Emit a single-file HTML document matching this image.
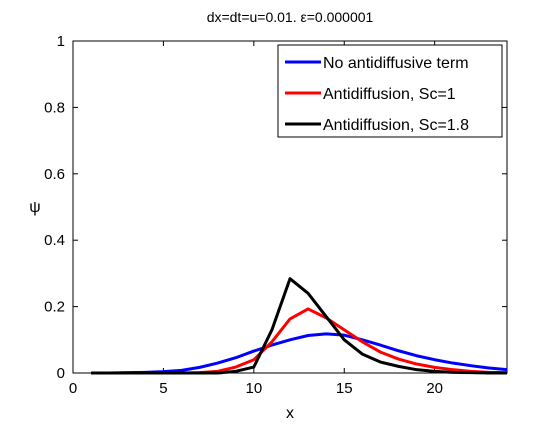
<!DOCTYPE html>
<html><head><meta charset="utf-8"><style>
body{margin:0;background:#fff;}
svg text{font-family:"Liberation Sans",sans-serif;}
</style></head><body>
<svg id="chart" width="560" height="420" xmlns="http://www.w3.org/2000/svg">
<rect width="560" height="420" fill="#fff"/>
<text x="290" y="22" text-anchor="middle" font-size="14">dx=dt=u=0.01. ε=0.000001</text>
<g id="plot"></g>
<text x="290" y="418" text-anchor="middle" font-size="16">x</text>
<text x="35" y="212" text-anchor="middle" font-size="16">ψ</text>
<g>
<rect x="278" y="45" width="224" height="92" fill="#fff" stroke="#000" stroke-width="1"/>
<line x1="285" y1="62" x2="321" y2="62" stroke="#0000ff" stroke-width="3"/>
<text x="323" y="68" font-size="16">No antidiffusive term</text>
<line x1="285" y1="93" x2="321" y2="93" stroke="#ff0000" stroke-width="3"/>
<text x="323" y="99" font-size="16">Antidiffusion, Sc=1</text>
<line x1="285" y1="124" x2="321" y2="124" stroke="#000" stroke-width="3"/>
<text x="323" y="130" font-size="16">Antidiffusion, Sc=1.8</text>
</g>
</svg>
<script>
const xs = [1,2,3,4,5,6,7,8,9,10,11,12,13,14,15,16,17,18,19,20,21,22,23,24];
const blue = [0,0,0.001,0.002,0.004,0.008,0.017,0.03,0.046,0.066,0.084,0.1,0.113,0.118,0.114,0.1,0.084,0.067,0.052,0.04,0.03,0.022,0.015,0.01];
const red = [0,0,0,0,0,0,0.001,0.005,0.018,0.04,0.094,0.163,0.193,0.166,0.13,0.094,0.063,0.042,0.027,0.017,0.01,0.005,0.002,0.001];
const black = [0,0,0,0,0,0,0,0,0.005,0.018,0.13,0.284,0.24,0.17,0.1,0.057,0.033,0.02,0.01,0.005,0.002,0.001,0,0];
const xTicks = [0,5,10,15,20];
const yTicks = [0,0.2,0.4,0.6,0.8,1];
const X0=73,X1=507,Y0=373,Y1=41;
function sx(v){return X0+(v-0)/(24-0)*(X1-X0);}
function sy(v){return Y0-(v-0)/(1-0)*(Y0-Y1);}
const NS="http://www.w3.org/2000/svg";
const g=document.getElementById('plot');
function mk(t,a){const e=document.createElementNS(NS,t);for(const k in a)e.setAttribute(k,a[k]);g.appendChild(e);return e;}
const frame=mk('rect',{x:X0,y:Y1,width:X1-X0,height:Y0-Y1,fill:'none',stroke:'#000','stroke-width':1});


xTicks.forEach(t=>{
  const x=sx(t);
  mk('line',{x1:x,y1:Y0,x2:x,y2:Y0-5,stroke:'#000'});
  mk('line',{x1:x,y1:Y1,x2:x,y2:Y1+5,stroke:'#000'});
  const tx=mk('text',{x:x,y:Y0+20,'text-anchor':'middle','font-size':15});
  tx.textContent=t;
  
  
});
yTicks.forEach(t=>{
  const y=sy(t);
  mk('line',{x1:X0,y1:y,x2:X0+5,y2:y,stroke:'#000'});
  mk('line',{x1:X1,y1:y,x2:X1-5,y2:y,stroke:'#000'});
  const tx=mk('text',{x:X0-8,y:y+5,'text-anchor':'end','font-size':15});
  tx.textContent=t;
  
  
});
[[blue,'#0000ff','series-no-antidiffusion'],[red,'#ff0000','series-sc1'],[black,'#000000','series-sc18']].forEach(([d,c,n])=>{
  const p=mk('polyline',{points:xs.map((x,i)=>sx(x)+','+sy(d[i])).join(' '),fill:'none',stroke:c,'stroke-width':3,'stroke-linejoin':'round'});
  
  
});
</script>
</body></html>
